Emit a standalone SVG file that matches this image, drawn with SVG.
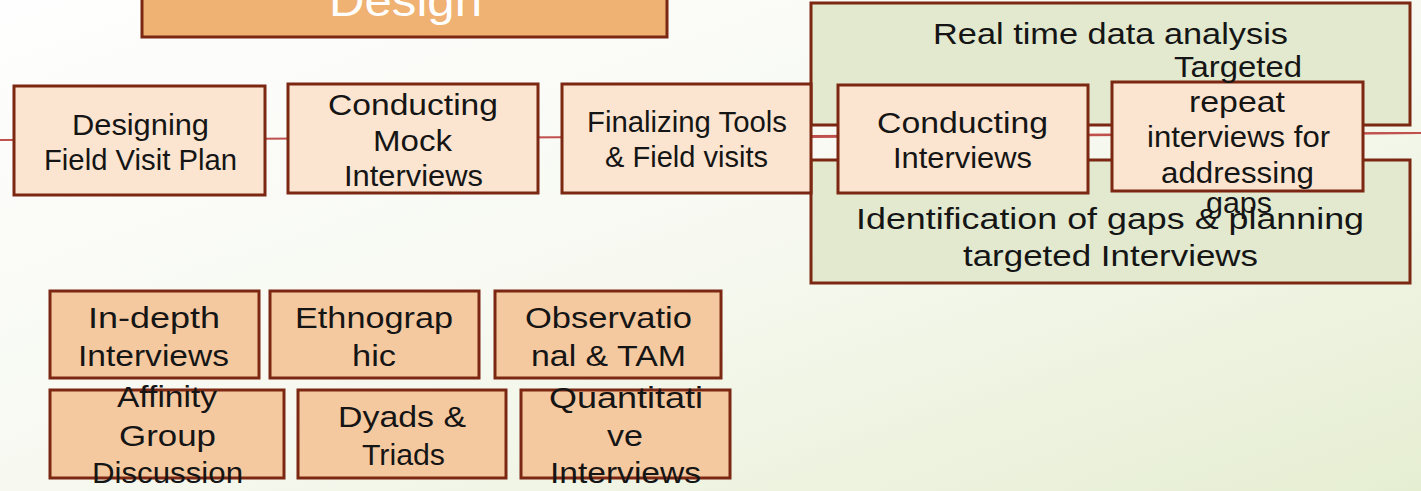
<svg xmlns="http://www.w3.org/2000/svg" width="1421" height="491" viewBox="0 0 1421 491">
<defs>
<linearGradient id="bg" x1="0" y1="0" x2="1" y2="1">
<stop offset="0" stop-color="#fefefe"/>
<stop offset="0.5" stop-color="#f7f9f1"/>
<stop offset="1" stop-color="#e6eed2"/>
</linearGradient>
<style>
.b{stroke:#7b2712;stroke-width:3}
.lt{fill:#fbe5d0}
.dk{fill:#f5c9a0}
.gr{fill:#e2e9cf}
.t{font-family:"Liberation Sans",Arial,sans-serif;font-size:29px;fill:#151515;text-anchor:middle}
.conn{stroke:#c0504d;stroke-width:2;fill:none}
</style>
</defs>
<rect width="1421" height="491" fill="url(#bg)"/>
<g id="connectors">
<line class="conn" x1="0" y1="140" x2="1421" y2="133"/>
</g>
<g id="design">
<rect class="b" x="142" y="-10" width="525" height="47" fill="#f0b272"/>
<text x="405.5" y="16" font-family="Liberation Sans,Arial,sans-serif" font-size="44" fill="#fff" text-anchor="middle" textLength="153" lengthAdjust="spacingAndGlyphs">Design</text>
</g>
<g id="loop">
<rect class="b gr" x="811" y="3" width="599" height="122"/>
<rect class="b gr" x="811" y="160" width="599" height="123"/>
<line class="conn" x1="811" y1="137" x2="1421" y2="133"/>
<text class="t" x="1110.5" y="44" textLength="355" lengthAdjust="spacingAndGlyphs">Real time data analysis</text>
<text class="t" x="1110" y="229" textLength="508" lengthAdjust="spacingAndGlyphs">Identification of gaps &amp; planning</text>
<text class="t" x="1110.5" y="266" textLength="295" lengthAdjust="spacingAndGlyphs">targeted Interviews</text>
</g>
<g id="n1">
<rect class="b lt" x="14" y="86" width="251" height="109"/>
<text class="t" x="140.5" y="135" textLength="137" lengthAdjust="spacingAndGlyphs">Designing</text>
<text class="t" x="140.5" y="170" textLength="193" lengthAdjust="spacingAndGlyphs">Field Visit Plan</text>
</g>
<g id="n2">
<rect class="b lt" x="288" y="84" width="250" height="109"/>
<text class="t" x="413" y="115" textLength="170" lengthAdjust="spacingAndGlyphs">Conducting</text>
<text class="t" x="412.5" y="151" textLength="79" lengthAdjust="spacingAndGlyphs">Mock</text>
<text class="t" x="413.5" y="186" textLength="139" lengthAdjust="spacingAndGlyphs">Interviews</text>
</g>
<g id="n3">
<rect class="b lt" x="562" y="84" width="249" height="109"/>
<text class="t" x="687" y="132" textLength="200" lengthAdjust="spacingAndGlyphs">Finalizing Tools</text>
<text class="t" x="686.5" y="167" textLength="163" lengthAdjust="spacingAndGlyphs">&amp; Field visits</text>
</g>
<g id="n4">
<rect class="b lt" x="838" y="85" width="250" height="108"/>
<text class="t" x="962.5" y="133" textLength="171" lengthAdjust="spacingAndGlyphs">Conducting</text>
<text class="t" x="962.5" y="168" textLength="139" lengthAdjust="spacingAndGlyphs">Interviews</text>
</g>
<g id="n5">
<rect class="b lt" x="1112" y="82" width="251" height="109"/>
<text class="t" x="1238" y="77" textLength="128" lengthAdjust="spacingAndGlyphs">Targeted</text>
<text class="t" x="1237" y="112" textLength="96" lengthAdjust="spacingAndGlyphs">repeat</text>
<text class="t" x="1238.5" y="147" textLength="183" lengthAdjust="spacingAndGlyphs">interviews for</text>
<text class="t" x="1237.5" y="183" textLength="153" lengthAdjust="spacingAndGlyphs">addressing</text>
<text class="t" x="1239" y="213" textLength="66" lengthAdjust="spacingAndGlyphs">gaps</text>
</g>
<g id="m1">
<rect class="b dk" x="50" y="291" width="209" height="87"/>
<text class="t" x="154" y="328" textLength="132" lengthAdjust="spacingAndGlyphs">In-depth</text>
<text class="t" x="153.5" y="366" textLength="151" lengthAdjust="spacingAndGlyphs">Interviews</text>
</g>
<g id="m2">
<rect class="b dk" x="270" y="291" width="209" height="87"/>
<text class="t" x="374" y="328" textLength="158" lengthAdjust="spacingAndGlyphs">Ethnograp</text>
<text class="t" x="374" y="366" textLength="44" lengthAdjust="spacingAndGlyphs">hic</text>
</g>
<g id="m3">
<rect class="b dk" x="495" y="291" width="226" height="87"/>
<text class="t" x="608.5" y="328" textLength="167" lengthAdjust="spacingAndGlyphs">Observatio</text>
<text class="t" x="608.5" y="366" textLength="155" lengthAdjust="spacingAndGlyphs">nal &amp; TAM</text>
</g>
<g id="m4">
<rect class="b dk" x="50" y="390" width="234" height="88"/>
<text class="t" x="167" y="407" textLength="100" lengthAdjust="spacingAndGlyphs">Affinity</text>
<text class="t" x="167.5" y="446" textLength="97" lengthAdjust="spacingAndGlyphs">Group</text>
<text class="t" x="167.5" y="483" textLength="151" lengthAdjust="spacingAndGlyphs">Discussion</text>
</g>
<g id="m5">
<rect class="b dk" x="298" y="390" width="208" height="88"/>
<text class="t" x="402" y="427" textLength="128" lengthAdjust="spacingAndGlyphs">Dyads &amp;</text>
<text class="t" x="403.5" y="465" textLength="83" lengthAdjust="spacingAndGlyphs">Triads</text>
</g>
<g id="m6">
<rect class="b dk" x="521" y="390" width="209" height="88"/>
<text class="t" x="626" y="408" textLength="154" lengthAdjust="spacingAndGlyphs">Quantitati</text>
<text class="t" x="625" y="446" textLength="36" lengthAdjust="spacingAndGlyphs">ve</text>
<text class="t" x="625.5" y="483" textLength="151" lengthAdjust="spacingAndGlyphs">Interviews</text>
</g>
</svg>
